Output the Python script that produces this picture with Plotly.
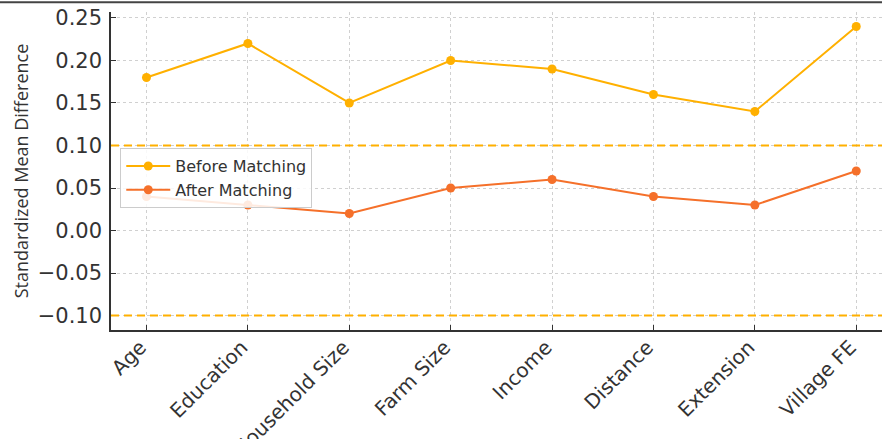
import plotly.graph_objects as go

categories = ["Age", "Education", "Household Size", "Farm Size", "Income", "Distance", "Extension", "Village FE"]
before_matching = [0.18, 0.22, 0.15, 0.20, 0.19, 0.16, 0.14, 0.24]
after_matching = [0.04, 0.03, 0.02, 0.05, 0.06, 0.04, 0.03, 0.07]
thresholds = [0.1, -0.1]
y_ticks = [-0.10, -0.05, 0.00, 0.05, 0.10, 0.15, 0.20, 0.25]

C_BEFORE = "#FFB000"
C_AFTER = "#F5702A"

x = list(range(len(categories)))
fig = go.Figure()
fig.add_trace(go.Scatter(x=x, y=before_matching, mode="lines+markers", name="Before Matching",
                         line=dict(color=C_BEFORE, width=2), marker=dict(size=9, color=C_BEFORE)))
fig.add_trace(go.Scatter(x=x, y=after_matching, mode="lines+markers", name="After Matching",
                         line=dict(color=C_AFTER, width=2), marker=dict(size=9, color=C_AFTER)))

for t in thresholds:
    fig.add_shape(type="line", xref="paper", x0=0, x1=1, yref="y", y0=t, y1=t,
                  line=dict(color=C_BEFORE, width=2, dash="8px,5px"), layer="above")

# thin dark line at the top edge of the picture
fig.add_shape(type="line", xref="paper", x0=-0.2, x1=1.05, yref="paper", y0=1.031, y1=1.031,
              line=dict(color="#444444", width=2))

fig.update_layout(
    width=882, height=439,
    margin=dict(l=111, r=0, t=12, b=109, autoexpand=False),
    plot_bgcolor="white", paper_bgcolor="white",
    font=dict(family="DejaVu Sans", color="#333333"),
    showlegend=True,
    legend=dict(x=0.012, y=0.572, xanchor="left", yanchor="top",
                bgcolor="rgba(255,255,255,0.85)", bordercolor="#cccccc", borderwidth=1,
                font=dict(size=16, family="DejaVu Sans", color="#333333"),
                tracegroupgap=0, itemwidth=44),
    xaxis=dict(range=[-0.35, 7.254], tickmode="array", tickvals=x, ticktext=categories,
               tickangle=-45, tickfont=dict(size=20), ticks="inside", ticklen=5,
               ticklabelshift=-6, ticklabelstandoff=-4,
               tickcolor="#333333", showline=True, linecolor="#333333", linewidth=1.5,
               showgrid=True, gridcolor="#d0d0d0", griddash="3px,3px", gridwidth=1,
               zeroline=False, automargin=False),
    yaxis=dict(range=[-0.117, 0.257], tickmode="array", tickvals=y_ticks,
               ticktext=[f"{v:.2f}".replace("-", "\u2212") for v in y_ticks],
               tickfont=dict(size=21), ticks="inside", ticklen=5, tickcolor="#333333",
               showline=True, linecolor="#333333", linewidth=1.5, ticklabelstandoff=3,
               showgrid=True, gridcolor="#d0d0d0", griddash="3px,3px", gridwidth=1,
               zeroline=False, automargin=False,
               title=dict(text="Standardized Mean Difference",
                          font=dict(size=18, family="Open Sans", color="#333333"), standoff=4)),
)

fig.write_html("out.html", post_script="document.body.style.margin='0';",
               config={"displayModeBar": False})
